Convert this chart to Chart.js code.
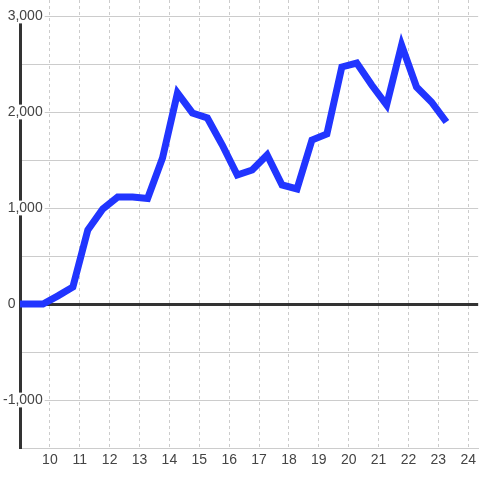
<!DOCTYPE html>
<html>
<head>
<meta charset="utf-8">
<script src="https://cdn.jsdelivr.net/npm/chart.js@4/dist/chart.umd.min.js"></script>
<style>
  html, body { margin: 0; padding: 0; background: #ffffff; }
  #wrap { width: 480px; height: 480px; }
</style>
</head>
<body>
<div id="wrap"><canvas id="c" width="480" height="480"></canvas></div>
<script>
// x positions of the samples (half-unit steps)
const xValues = [8.77, 9.27, 9.77, 10.27, 10.77, 11.27, 11.77, 12.27, 12.77, 13.27,
                 13.77, 14.27, 14.77, 15.27, 15.77, 16.27, 16.77, 17.27, 17.77, 18.27,
                 18.77, 19.27, 19.77, 20.27, 20.77, 21.27, 21.77, 22.27, 22.77, 23.27];
const yValues = [0, 0, 0, 85, 177, 771, 990, 1115, 1115, 1100,
                 1521, 2198, 1990, 1938, 1656, 1344, 1396, 1552, 1240, 1198,
                 1708, 1771, 2469, 2510, 2281, 2073, 2698, 2260, 2104, 1896];
const xTickValues = [10, 11, 12, 13, 14, 15, 16, 17, 18, 19, 20, 21, 22, 23, 24];
const yTickValues = [-1500, -1000, -500, 0, 500, 1000, 1500, 2000, 2500, 3000];
const yLabelledTicks = [-1000, 0, 1000, 2000, 3000];

const points = xValues.map((x, i) => ({ x: x, y: yValues[i] }));

function yLabel(v) {
  if (!yLabelledTicks.includes(v)) return '';
  if (v === 0) return '0       '; // zero label sits further left in the reference
  return Number(v).toLocaleString('en-US');
}

// Start the y axis line at the highest tick instead of the very top of the plot
const axisTopPlugin = {
  id: 'axisTop',
  afterLayout(chart) {
    const y = chart.scales.y;
    y.top = y.getPixelForValue(yTickValues[yTickValues.length - 1]);
  }
};

new Chart(document.getElementById('c'), {
  type: 'line',
  data: {
    datasets: [{
      data: points,
      borderColor: 'rgb(33,53,255)',
      borderWidth: 7,
      pointRadius: 0,
      tension: 0,
      fill: false
    }]
  },
  options: {
    responsive: false,
    animation: false,
    devicePixelRatio: 1,
    layout: { padding: 0 },
    plugins: { legend: { display: false }, tooltip: { enabled: false } },
    scales: {
      x: {
        type: 'linear',
        min: 9,
        max: 24.3333,
        afterBuildTicks: (s) => { s.ticks = xTickValues.map(v => ({ value: v })); },
        afterFit: (s) => { s.height = 32; },
        grid: {
          color: '#cccccc',
          lineWidth: 1,
          drawTicks: false
        },
        border: { display: true, color: '#cccccc', width: 1, dash: [3, 3] },
        ticks: {
          color: '#444444',
          font: { family: 'Liberation Sans, Arial, sans-serif', size: 14 },
          padding: 4,
          maxRotation: 0,
          autoSkip: false,
          callback: (v) => String(v)
        }
      },
      y: {
        type: 'linear',
        min: -1500,
        max: 3166.67,
        afterBuildTicks: (s) => { s.ticks = yTickValues.map(v => ({ value: v })); },
        afterFit: (s) => { s.width = 20; },
        grid: {
          drawTicks: false,
          color: (ctx) => (ctx.tick && ctx.tick.value === 0) ? '#333333' : '#cccccc',
          lineWidth: (ctx) => (ctx.tick && ctx.tick.value === 0) ? 3 : 1
        },
        border: { display: true, color: '#333333', width: 3 },
        ticks: {
          color: '#444444',
          font: { family: 'Liberation Sans, Arial, sans-serif', size: 14 },
          mirror: true,
          padding: -17,
          crossAlign: 'far',
          autoSkip: false,
          showLabelBackdrop: (ctx) => ctx.tick && ctx.tick.value !== 0 && yLabelledTicks.includes(ctx.tick.value),
          backdropColor: '#ffffff',
          backdropPadding: { top: -1, bottom: -1, left: 2, right: 2 },
          callback: (v) => yLabel(v)
        }
      }
    }
  },
  plugins: [axisTopPlugin]
});
</script>
</body>
</html>
